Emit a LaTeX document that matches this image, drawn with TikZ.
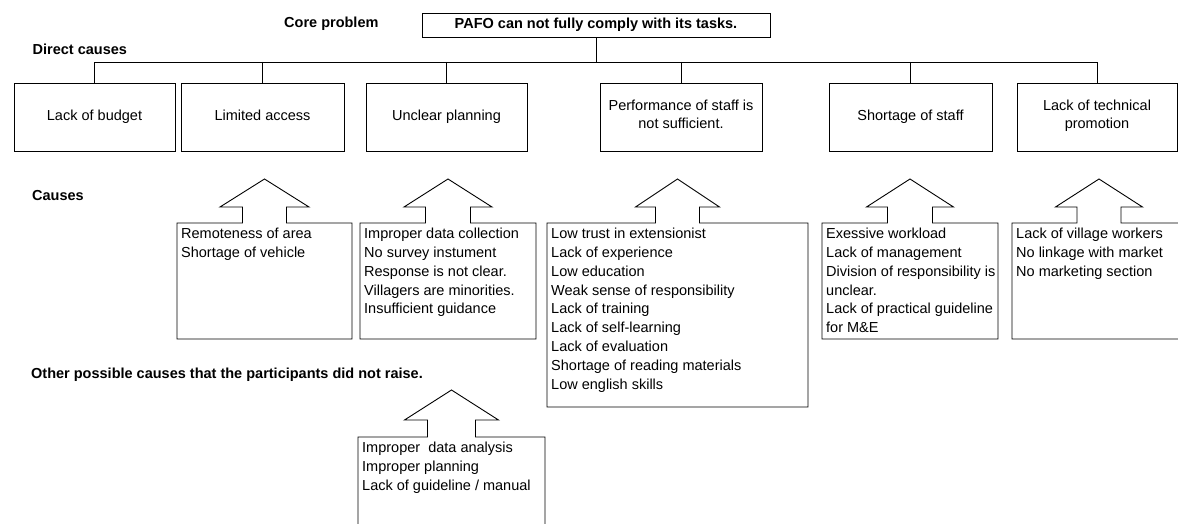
\documentclass[tikz,border=0pt]{standalone}
\usepackage{fontspec}
\setmainfont{Liberation Sans}
\begin{document}
\begin{tikzpicture}[x=1pt,y=-1pt,
  every node/.style={font=\fontsize{14.5}{18.8}\selectfont, inner sep=0pt},
  heading/.style={font=\fontsize{14.5}{18.8}\selectfont\bfseries, anchor=west},
  corebox/.style={draw, line width=0.9pt, minimum width=348pt, minimum height=24pt,
                  font=\fontsize{14.5}{18.8}\selectfont\bfseries},
  directbox/.style={draw, line width=0.9pt, minimum height=68pt, align=center,
                    execute at begin node=\strut, execute at end node=\strut},
  link/.style={line width=0.9pt},
  outline/.style={line width=0.9pt, line join=miter},
  list/.style={anchor=north west, align=left}
]
\useasboundingbox (0,0) rectangle (1178,524);
\clip (0,0) rectangle (1178,524);

% headings
\node[heading] (hcore)  at (284,24)  {Core problem};
\node[heading] (hdir)   at (32.5,49) {Direct causes};
\node[heading] (hcause) at (32,196)  {Causes};
\node[heading] (hother) at (31,375)  {Other possible causes that the participants did not raise.};

% core problem
\node[corebox] (core) at (596,25) {PAFO can not fully comply with its tasks.};

% direct causes
\node[directbox, minimum width=161pt] (d1) at (94.5,117) {Lack of budget};
\node[directbox, minimum width=163pt] (d2) at (262.5,117) {Limited access};
\node[directbox, minimum width=161pt] (d3) at (446.5,117) {Unclear planning};
\node[directbox, minimum width=162pt] (d4) at (681,117) {Performance of staff is\\not sufficient.};
\node[directbox, minimum width=163pt] (d5) at (910.5,117) {Shortage of staff};
\node[directbox, minimum width=160pt] (d6) at (1097,117) {Lack of technical\\promotion};

% tree connectors
\coordinate (bar) at (0,62);
\draw[link] (core.south) -- (core.south |- bar);
\draw[link] (d1.north) -- (d1.north |- bar) -- (d6.north |- bar) -- (d6.north);
\foreach \n in {d2,d3,d4,d5}
  \draw[link] (\n.north |- bar) -- (\n.north);

% cause boxes with block arrows on top
\foreach \L/\R/\B/\C/\w/\s/\A/\W/\T in {
    177/352/339/264.5/44.5/22/179/207/223,
    360/536/339/448/44/22.5/179/207/223,
    547/808/407/677.5/42/22/179/207/223,
    822/998/339/910/43.5/22.5/179/207/223,
    1012/1186/339/1099/43.5/22/179/207/223,
    358/545/560/451.5/47/24/390/420/437}
  \draw[outline] (\L,\T) -- ({\C-\s},\T) -- ({\C-\s},\W) -- ({\C-\w},\W) -- (\C,\A)
     -- ({\C+\w},\W) -- ({\C+\s},\W) -- ({\C+\s},\T) -- (\R,\T) -- (\R,\B) -- (\L,\B) -- cycle;

\node[list] (c1) at (181,228) {Remoteness of area\\Shortage of vehicle};
\node[list] (c2) at (364,228) {Improper data collection\\No survey instument\\Response is not clear.\\Villagers are minorities.\\Insufficient guidance};
\node[list] (c3) at (551,228) {Low trust in extensionist\\Lack of experience\\Low education\\Weak sense of responsibility\\Lack of training\\Lack of self-learning\\Lack of evaluation\\Shortage of reading materials\\Low english skills};
\node[list] (c4) at (826,228) {Exessive workload\\Lack of management\\Division of responsibility is\\unclear.\\Lack of practical guideline\\for M\&E};
\node[list] (c5) at (1016,228) {Lack of village workers\\No linkage with market\\No marketing section};
\node[list] (c6) at (362,442) {Improper\ \ data analysis\\Improper planning\\Lack of guideline / manual};
\end{tikzpicture}
\end{document}
